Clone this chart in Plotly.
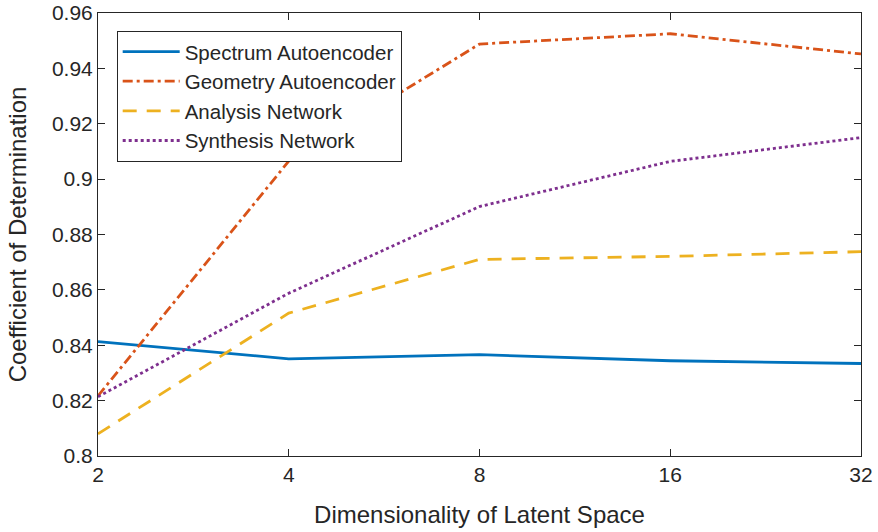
import plotly.graph_objects as go

dims = [2, 4, 8, 16, 32]
spectrum_ae = [0.8413, 0.8351, 0.8366, 0.8344, 0.8334]
geometry_ae = [0.8217, 0.9065, 0.9488, 0.9525, 0.9452]
analysis_net = [0.8080, 0.8516, 0.8710, 0.8721, 0.8738]
synthesis_net = [0.8214, 0.8588, 0.8901, 0.9064, 0.9150]
x_ticks = [2, 4, 8, 16, 32]
y_ticks = [0.8, 0.82, 0.84, 0.86, 0.88, 0.9, 0.92, 0.94, 0.96]
y_tick_text = ["0.8", "0.82", "0.84", "0.86", "0.88", "0.9", "0.92", "0.94", "0.96"]

series = [
    ("Spectrum Autoencoder", spectrum_ae, "#0072BD", "solid"),
    ("Geometry Autoencoder", geometry_ae, "#D95319", "10px,4px,3px,4px"),
    ("Analysis Network", analysis_net, "#EDB120", "14px,10px"),
    ("Synthesis Network", synthesis_net, "#7E2F8E", "3px,3px"),
]

fig = go.Figure()
for name, vals, color, dash in series:
    fig.add_trace(go.Scatter(x=dims, y=vals, mode="lines", name=name,
                             line=dict(color=color, width=2.8, dash=dash)))

font_family = "Liberation Sans, Arial, sans-serif"
axis_common = dict(showline=True, linecolor="#262626", linewidth=1, mirror="ticks",
                   ticks="inside", ticklen=7, tickcolor="#262626", showgrid=False,
                   zeroline=False, automargin=False, ticklabeloverflow="allow",
                   tickfont=dict(size=21, color="#262626", family=font_family))

fig.update_layout(
    width=878, height=532,
    margin=dict(l=98, r=17, t=13, b=76),
    paper_bgcolor="white", plot_bgcolor="white",
    font=dict(family=font_family, color="#262626"),
    xaxis=dict(type="log", range=[0.30103, 1.50515], tickvals=x_ticks,
               ticktext=[str(v) for v in x_ticks],
               title=dict(text="Dimensionality of Latent Space", font=dict(size=24), standoff=20),
               **axis_common),
    yaxis=dict(range=[0.8, 0.96], tickvals=y_ticks, ticktext=y_tick_text,
               title=dict(text="Coefficient of Determination", font=dict(size=24), standoff=18),
               **axis_common),
    legend=dict(x=0.0245, y=0.96, xanchor="left", yanchor="top",
                bordercolor="#262626", borderwidth=1, bgcolor="white",
                font=dict(size=20.5, color="#262626", family=font_family),
                tracegroupgap=0, itemwidth=57),
    showlegend=True,
)

fig.write_html("out.html", config={"displayModeBar": False},
               post_script="document.body.style.margin='0';document.body.style.padding='0';")
